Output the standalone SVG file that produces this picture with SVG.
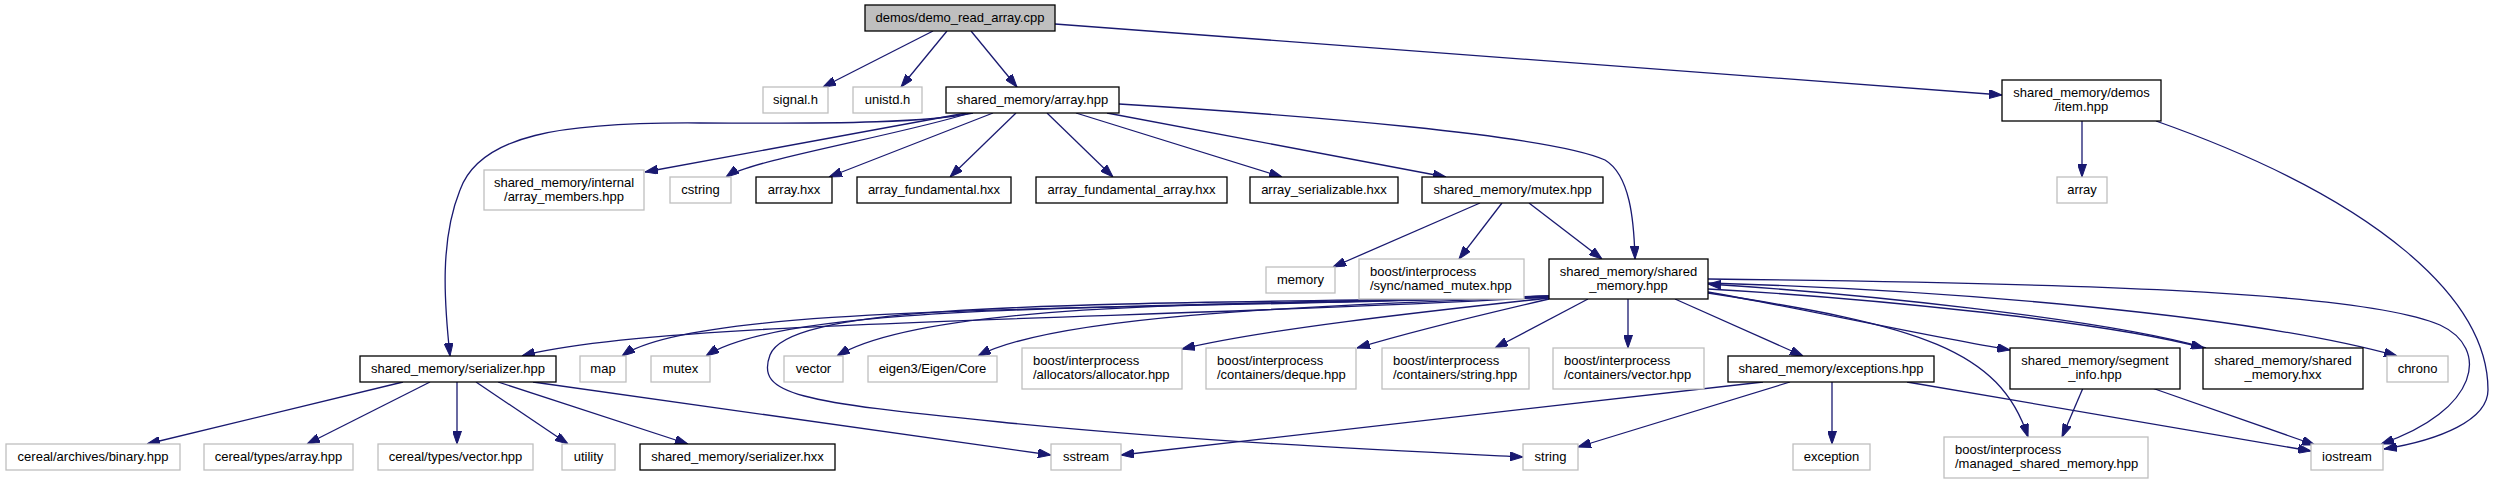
<svg xmlns="http://www.w3.org/2000/svg" width="2496" height="484" viewBox="0 0 2496 484">
<style>
text{font-family:"Liberation Sans",Arial,sans-serif;font-size:13px;fill:#000}
.c{text-anchor:middle}
.b rect{fill:#fff;stroke:#000;stroke-width:1.3}
.g rect{fill:#fff;stroke:#bfbfbf;stroke-width:1.3}
.r rect{fill:#bfbfbf;stroke:#000;stroke-width:1.3}
#edges path{fill:none;stroke:#191970;stroke-width:1.3;marker-end:url(#a)}
</style>
<defs>
<marker id="a" markerUnits="userSpaceOnUse" viewBox="0 0 13 9" refX="13" refY="4.5" markerWidth="13" markerHeight="9" orient="auto">
<path d="M0,0 L13,4.5 L0,9 z" fill="#191970" stroke="#191970" stroke-width="1"/>
</marker>
</defs>
<rect width="2496" height="484" fill="#fff"/>
<g id="edges">
<path d="M933,31 L823,87"/>
<path d="M947,31 L901,87"/>
<path d="M971,31 L1017,87"/>
<path d="M1055,24 L2002,95"/>
<path d="M973,113 C930,122 850,124 700,123 C560,122 480,135 460,190 C440,240 444,300 450,356"/>
<path d="M966,113 L645,172"/>
<path d="M970,113 C900,135 750,160 726,177"/>
<path d="M993,113 L829,177"/>
<path d="M1016,113 L950,177"/>
<path d="M1047,113 L1113,177"/>
<path d="M1076,113 L1282,177"/>
<path d="M1107,113 L1446,177"/>
<path d="M1119,104 C1300,115 1550,135 1605,160 C1630,175 1634,220 1635,259"/>
<path d="M2082,121 L2082,177"/>
<path d="M2156,121 C2380,200 2488,300 2488,390 C2488,420 2440,440 2384,449"/>
<path d="M1480,203 L1333,267"/>
<path d="M1502,203 L1459,259"/>
<path d="M1529,203 L1602,259"/>
<path d="M1549,297 C1150,320 650,320 522,356"/>
<path d="M1549,296 C1150,312 700,300 622,356"/>
<path d="M1549,296 C1150,310 790,300 706,356"/>
<path d="M1549,296 C1250,305 930,300 837,356"/>
<path d="M1549,297 C1350,305 1060,312 978,356"/>
<path d="M1549,298 C1420,312 1260,330 1182,349"/>
<path d="M1549,299 C1480,315 1400,335 1357,348"/>
<path d="M1588,299 L1495,348"/>
<path d="M1628,299 L1628,348"/>
<path d="M1675,299 L1803,356"/>
<path d="M1549,297 C1100,305 790,300 770,355 C755,395 800,402 1000,422 C1200,442 1400,451 1523,457"/>
<path d="M1708,279 C2050,283 2360,290 2440,325 C2490,348 2480,410 2381,444"/>
<path d="M1708,283 C1950,290 2250,315 2397,356"/>
<path d="M2206,348 C2100,318 1850,293 1708,284"/>
<path d="M1708,289 C1850,297 2100,320 2204,348"/>
<path d="M1708,292 C1800,308 1920,335 2010,350"/>
<path d="M1708,293 C1920,325 2000,350 2028,437"/>
<path d="M403,382 L147,444"/>
<path d="M430,382 L307,444"/>
<path d="M457,382 L457,444"/>
<path d="M476,382 L568,444"/>
<path d="M498,382 L688,444"/>
<path d="M533,382 L1051,455"/>
<path d="M1763,382 L1121,455"/>
<path d="M1790,382 L1578,447"/>
<path d="M1832,382 L1832,444"/>
<path d="M1907,382 L2311,451"/>
<path d="M2083,388 L2062,437"/>
<path d="M2152,388 L2315,445"/>
</g>
<g id="n_root" class="r"><rect x="865" y="5" width="190" height="26"/><text class="c" x="960" y="22">demos/demo_read_array.cpp</text></g>
<g id="n_signal" class="g"><rect x="763" y="87" width="65" height="26"/><text class="c" x="795.5" y="104">signal.h</text></g>
<g id="n_unistd" class="g"><rect x="853" y="87" width="69" height="26"/><text class="c" x="887.5" y="104">unistd.h</text></g>
<g id="n_array_hpp" class="b"><rect x="946" y="87" width="173" height="26"/><text class="c" x="1032.5" y="104">shared_memory/array.hpp</text></g>
<g id="n_array_members" class="g"><rect x="484" y="170" width="160" height="40"/><text class="c" x="564" y="186.5">shared_memory/internal</text><text class="c" x="564" y="201">/array_members.hpp</text></g>
<g id="n_cstring" class="g"><rect x="670" y="177" width="61" height="26"/><text class="c" x="700.5" y="194">cstring</text></g>
<g id="n_array_hxx" class="b"><rect x="756" y="177" width="76" height="26"/><text class="c" x="794" y="194">array.hxx</text></g>
<g id="n_array_fund" class="b"><rect x="857" y="177" width="154" height="26"/><text class="c" x="934" y="194">array_fundamental.hxx</text></g>
<g id="n_array_fund_arr" class="b"><rect x="1036" y="177" width="191" height="26"/><text class="c" x="1131.5" y="194">array_fundamental_array.hxx</text></g>
<g id="n_array_ser" class="b"><rect x="1250" y="177" width="148" height="26"/><text class="c" x="1324" y="194">array_serializable.hxx</text></g>
<g id="n_mutex_hpp" class="b"><rect x="1422" y="177" width="181" height="26"/><text class="c" x="1512.5" y="194">shared_memory/mutex.hpp</text></g>
<g id="n_item" class="b"><rect x="2002" y="80" width="159" height="41"/><text class="c" x="2081.5" y="96.5">shared_memory/demos</text><text class="c" x="2081.5" y="111">/item.hpp</text></g>
<g id="n_array" class="g"><rect x="2057" y="177" width="50" height="26"/><text class="c" x="2082" y="194">array</text></g>
<g id="n_memory" class="g"><rect x="1266" y="267" width="69" height="26"/><text class="c" x="1300.5" y="284">memory</text></g>
<g id="n_named_mutex" class="g"><rect x="1359" y="259" width="165" height="40"/><text x="1370" y="275.5">boost/interprocess</text><text x="1370" y="290">/sync/named_mutex.hpp</text></g>
<g id="n_shm_hpp" class="b"><rect x="1549" y="259" width="159" height="40"/><text class="c" x="1628.5" y="275.5">shared_memory/shared</text><text class="c" x="1628.5" y="290">_memory.hpp</text></g>
<g id="n_serializer_hpp" class="b"><rect x="360" y="356" width="196" height="26"/><text class="c" x="458" y="373">shared_memory/serializer.hpp</text></g>
<g id="n_map" class="g"><rect x="580" y="356" width="46" height="26"/><text class="c" x="603" y="373">map</text></g>
<g id="n_mutex" class="g"><rect x="651" y="356" width="59" height="26"/><text class="c" x="680.5" y="373">mutex</text></g>
<g id="n_vector" class="g"><rect x="784" y="356" width="59" height="26"/><text class="c" x="813.5" y="373">vector</text></g>
<g id="n_eigen" class="g"><rect x="868" y="356" width="129" height="26"/><text class="c" x="932.5" y="373">eigen3/Eigen/Core</text></g>
<g id="n_allocator" class="g"><rect x="1022" y="348" width="160" height="41"/><text x="1033" y="364.5">boost/interprocess</text><text x="1033" y="379">/allocators/allocator.hpp</text></g>
<g id="n_deque" class="g"><rect x="1206" y="348" width="150" height="41"/><text x="1217" y="364.5">boost/interprocess</text><text x="1217" y="379">/containers/deque.hpp</text></g>
<g id="n_cstring_hpp" class="g"><rect x="1382" y="348" width="147" height="41"/><text x="1393" y="364.5">boost/interprocess</text><text x="1393" y="379">/containers/string.hpp</text></g>
<g id="n_cvector_hpp" class="g"><rect x="1553" y="348" width="151" height="41"/><text x="1564" y="364.5">boost/interprocess</text><text x="1564" y="379">/containers/vector.hpp</text></g>
<g id="n_exceptions" class="b"><rect x="1728" y="356" width="206" height="26"/><text class="c" x="1831" y="373">shared_memory/exceptions.hpp</text></g>
<g id="n_segment" class="b"><rect x="2010" y="348" width="170" height="41"/><text class="c" x="2095" y="364.5">shared_memory/segment</text><text class="c" x="2095" y="379">_info.hpp</text></g>
<g id="n_shm_hxx" class="b"><rect x="2203" y="348" width="160" height="41"/><text class="c" x="2283" y="364.5">shared_memory/shared</text><text class="c" x="2283" y="379">_memory.hxx</text></g>
<g id="n_chrono" class="g"><rect x="2387" y="356" width="61" height="26"/><text class="c" x="2417.5" y="373">chrono</text></g>
<g id="n_binary" class="g"><rect x="6" y="444" width="174" height="26"/><text class="c" x="93" y="461">cereal/archives/binary.hpp</text></g>
<g id="n_ctarray" class="g"><rect x="204" y="444" width="149" height="26"/><text class="c" x="278.5" y="461">cereal/types/array.hpp</text></g>
<g id="n_ctvector" class="g"><rect x="378" y="444" width="155" height="26"/><text class="c" x="455.5" y="461">cereal/types/vector.hpp</text></g>
<g id="n_utility" class="g"><rect x="562" y="444" width="53" height="26"/><text class="c" x="588.5" y="461">utility</text></g>
<g id="n_serializer_hxx" class="b"><rect x="640" y="444" width="195" height="26"/><text class="c" x="737.5" y="461">shared_memory/serializer.hxx</text></g>
<g id="n_sstream" class="g"><rect x="1051" y="444" width="70" height="26"/><text class="c" x="1086" y="461">sstream</text></g>
<g id="n_string" class="g"><rect x="1523" y="444" width="55" height="26"/><text class="c" x="1550.5" y="461">string</text></g>
<g id="n_exception" class="g"><rect x="1793" y="444" width="77" height="26"/><text class="c" x="1831.5" y="461">exception</text></g>
<g id="n_managed" class="g"><rect x="1944" y="437" width="204" height="41"/><text x="1955" y="453.5">boost/interprocess</text><text x="1955" y="468">/managed_shared_memory.hpp</text></g>
<g id="n_iostream" class="g"><rect x="2311" y="444" width="72" height="26"/><text class="c" x="2347" y="461">iostream</text></g>
</svg>
